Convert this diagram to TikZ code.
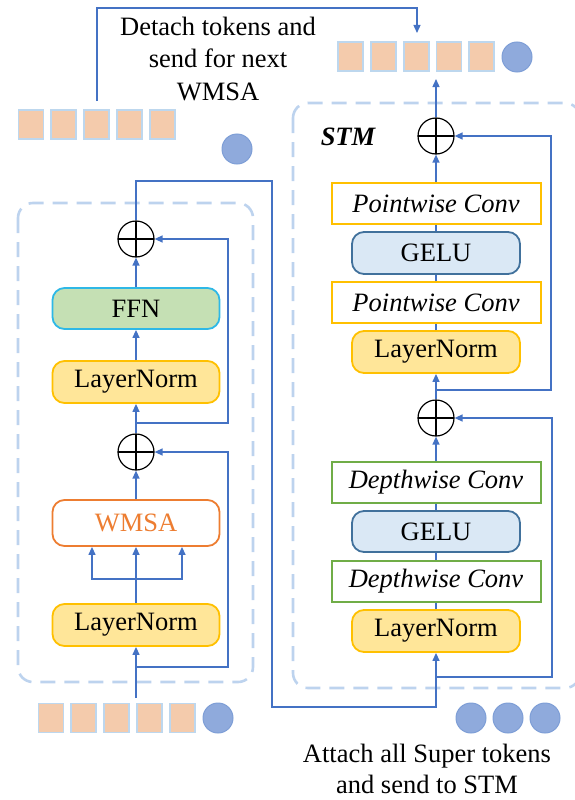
\documentclass[tikz,border=0pt]{standalone}
\usepackage{fontspec}
\setmainfont{Liberation Serif}
\usetikzlibrary{arrows.meta,calc}
\definecolor{lineblue}{HTML}{4472C4}
\definecolor{lnfill}{HTML}{FFE699}
\definecolor{lnborder}{HTML}{FFC000}
\definecolor{ffnfill}{HTML}{C5E0B4}
\definecolor{ffnborder}{HTML}{2EB8E6}
\definecolor{wmsaor}{HTML}{ED7D31}
\definecolor{gelufill}{HTML}{DAE8F5}
\definecolor{geluborder}{HTML}{41719C}
\definecolor{dwgreen}{HTML}{70AD47}
\definecolor{tokfill}{HTML}{F4CBAC}
\definecolor{tokborder}{HTML}{BDD7EE}
\definecolor{supfill}{HTML}{8FAADC}
\definecolor{supborder}{HTML}{7E9ED6}
\definecolor{dashblue}{HTML}{BDD3EE}
\begin{document}
\begin{tikzpicture}[x=1pt,y=-1pt,
  font=\fontsize{26.5}{32.5}\selectfont,
  conn/.style={draw=lineblue, line width=1.3pt},
  arr/.style={conn, -{Triangle[length=8pt,width=7pt]}},
  rbox/.style={rectangle, rounded corners=12pt, minimum width=168pt, minimum height=42pt, line width=1.8pt, inner sep=0pt},
  lnbox/.style={rbox, fill=lnfill, draw=lnborder},
  gelubox/.style={rbox, fill=gelufill, draw=geluborder},
  convbox/.style={rectangle, minimum width=209pt, minimum height=41pt, line width=2pt, inner sep=0pt, fill=white, font=\fontsize{26.5}{32.5}\selectfont\itshape},
  plusnode/.style={circle, draw=black, line width=1.2pt, minimum size=36pt, inner sep=0pt,
    path picture={\draw[black, line width=1.2pt] (path picture bounding box.north) -- (path picture bounding box.south) (path picture bounding box.west) -- (path picture bounding box.east);}},
  token/.style={rectangle, minimum width=25pt, minimum height=29pt, fill=tokfill, draw=tokborder, line width=1.8pt, inner sep=0pt},
  stok/.style={circle, minimum size=30pt, fill=supfill, draw=supborder, line width=1pt, inner sep=0pt},
  group/.style={draw=dashblue, line width=2.6pt, dash pattern=on 15pt off 9pt, rounded corners=15pt}
]
\useasboundingbox (0,0) rectangle (574,800);

% dashed groups
\draw[group] (18,203) rectangle (253,682);
\draw[group] (293,103) rectangle (580,688);

% tokens
\foreach \i in {0,...,4} {
  \node[token] (tl\i) at (31+32.8*\i,124.5) {};
  \node[token] (tr\i) at (350.5+32.8*\i,56.5) {};
  \node[token] (bl\i) at (51+32.8*\i,718) {};
}
\node[stok] (tlc) at (237,149) {};
\node[stok] (trc) at (517,57) {};
\node[stok] (blc) at (218,718) {};
\node[stok] (br0) at (471,718) {};
\node[stok] (br1) at (508,718) {};
\node[stok] (br2) at (545,718) {};

% labels
\node[align=center] (detach) at (218,59) {Detach tokens and\\send for next\\WMSA};
\node[align=center, font=\fontsize{26.5}{31}\selectfont] (attach) at (427,769) {Attach all Super tokens\\and send to STM};
\node[font=\fontsize{26.5}{32.5}\selectfont\bfseries\itshape] (stm) at (348,137) {STM};

% left column
\node[lnbox, minimum width=167pt] (ln1) at (136,625) {LayerNorm};
\node[rbox, minimum width=167pt, minimum height=46pt, fill=white, draw=wmsaor, text=wmsaor] (wmsa) at (136,523) {WMSA};
\node[plusnode] (plus1) at (136,452) {};
\node[lnbox, minimum width=167pt] (ln2) at (136,382) {LayerNorm};
\node[rbox, minimum width=167pt, minimum height=41pt, fill=ffnfill, draw=ffnborder] (ffn) at (136,308.5) {FFN};
\node[plusnode] (plus2) at (136,239) {};

% right column
\node[lnbox] (ln3) at (436,631) {LayerNorm};
\node[convbox, draw=dwgreen] (dw1) at (436,581) {Depthwise Conv};
\node[gelubox, minimum height=41pt] (gelu1) at (436,531.5) {GELU};
\node[convbox, draw=dwgreen] (dw2) at (436,482.5) {Depthwise Conv};
\node[plusnode] (plus3) at (436,418) {};
\node[lnbox] (ln4) at (436,352) {LayerNorm};
\node[convbox, draw=lnborder] (pw1) at (436,302.5) {Pointwise Conv};
\node[gelubox] (gelu2) at (436,253) {GELU};
\node[convbox, draw=lnborder] (pw2) at (436,203.5) {Pointwise Conv};
\node[plusnode] (plus4) at (436,136) {};

% coordinates
\coordinate (d0) at (97,101);
\coordinate (d1) at (97,8);
\coordinate (d2) at (417,33);
\coordinate (inL) at (136,698);
\coordinate (jL1) at (136,667);
\coordinate (sL1) at (228,452);
\coordinate (jL2) at (136,423);
\coordinate (sL2) at (228,239);
\coordinate (brn) at (136,579);
\coordinate (c1) at (272,181);
\coordinate (c2) at (272,707);
\coordinate (jR1) at (436,677);
\coordinate (sR1) at (552,418);
\coordinate (jR2) at (436,390);
\coordinate (sR2) at (551,136);
\coordinate (outR) at (436,79);

% top connector
\draw[arr] (d0) -- (d1) -| (d2);

% left connections
\draw[arr] (inL) -- (ln1.south);
\draw[arr] (jL1) -| (sL1) -- (plus1.east);
\draw[arr] (ln1.north) -- (wmsa.south);
\draw[arr] (brn) -| ([xshift=-44pt]wmsa.south);
\draw[arr] (brn) -| ([xshift=46pt]wmsa.south);
\draw[arr] (wmsa.north) -- (plus1.south);
\draw[arr] (plus1.north) -- (ln2.south);
\draw[arr] (jL2) -| (sL2) -- (plus2.east);
\draw[arr] (ln2.north) -- (ffn.south);
\draw[arr] (ffn.north) -- (plus2.south);
\draw[arr] (plus2.north) |- (c1) -- (c2) -| (ln3.south);

% right connections
\draw[conn] (ln3.north) -- (dw1.south);
\draw[conn] (dw1.north) -- (gelu1.south);
\draw[conn] (gelu1.north) -- (dw2.south);
\draw[arr] (dw2.north) -- (plus3.south);
\draw[arr] (jR1) -| (sR1) -- (plus3.east);
\draw[arr] (plus3.north) -- (ln4.south);
\draw[arr] (jR2) -| (sR2) -- (plus4.east);
\draw[conn] (ln4.north) -- (pw1.south);
\draw[conn] (pw1.north) -- (gelu2.south);
\draw[conn] (gelu2.north) -- (pw2.south);
\draw[arr] (pw2.north) -- (plus4.south);
\draw[arr] (plus4.north) -- (outR);
\end{tikzpicture}
\end{document}
